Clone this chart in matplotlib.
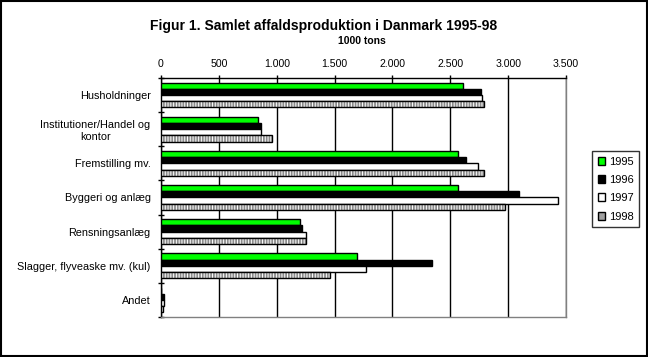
import numpy as np
import matplotlib
matplotlib.use("Agg")
import matplotlib.pyplot as plt
from matplotlib.patches import Patch, Rectangle
from matplotlib.ticker import FuncFormatter, FixedLocator

plt.rcParams['font.family'] = ['Liberation Sans', 'DejaVu Sans']
plt.rcParams['hatch.linewidth'] = 0.7

# data, 1000 tons
categories = ["Husholdninger", "Institutioner/Handel og\nkontor", "Fremstilling mv.",
              "Byggeri og anlæg", "Rensningsanlæg", "Slagger, flyveaske mv. (kul)", "Andet"]
years = ["1995", "1996", "1997", "1998"]
v1995 = [2610, 840, 2565, 2565, 1205, 1695, 0]
v1996 = [2765, 860, 2635, 3095, 1220, 2340, 25]
v1997 = [2775, 865, 2740, 3430, 1255, 1775, 30]
v1998 = [2790, 960, 2790, 2970, 1250, 1460, 15]
xticks = [0, 500, 1000, 1500, 2000, 2500, 3000, 3500]

fig = plt.figure(figsize=(6.48, 3.57), dpi=100)
ax = fig.add_axes([161 / 648, 1 - 317 / 357, 405 / 648, 239 / 357])

y = np.arange(len(categories))
h = 0.18
offs = [-1.5 * h, -0.5 * h, 0.5 * h, 1.5 * h]

ax.barh(y + offs[0], v1995, height=h, color='#00ff00', edgecolor='black', linewidth=1, zorder=3)
ax.barh(y + offs[1], v1996, height=h, color='black', edgecolor='black', linewidth=1, zorder=3)
ax.barh(y + offs[2], v1997, height=h, color='white', edgecolor='black', linewidth=1, zorder=3)
# striped bar: gray with white vertical lines, then black outline on top
ax.barh(y + offs[3], v1998, height=h, color='#8c8c8c', edgecolor='white', hatch='||||||',
        linewidth=0, zorder=3)
ax.barh(y + offs[3], v1998, height=h, fill=False, edgecolor='black', linewidth=1, zorder=4)

ax.set_xlim(0, 3500)
ax.set_ylim(len(categories) - 0.5, -0.5)

ax.xaxis.tick_top()
ax.set_xticks(xticks)
ax.xaxis.set_major_formatter(FuncFormatter(lambda v, p: f"{int(v):,}".replace(",", ".")))
ax.tick_params(axis='x', direction='out', length=2.2, width=1, pad=4.5, labelsize=7.6)
ax.grid(axis='x', color='black', linewidth=1, zorder=1)

ax.set_yticks(y)
ax.set_yticklabels(categories, multialignment='center')
ax.yaxis.set_minor_locator(FixedLocator(np.arange(-0.5, len(categories), 1.0)))
ax.tick_params(axis='y', which='major', length=0, pad=7.5, labelsize=7.8)
ax.tick_params(axis='y', which='minor', direction='inout', length=4.3, width=1)

ax.spines['top'].set_color('black')
ax.spines['left'].set_color('black')
ax.spines['right'].set_color('#808080')
ax.spines['bottom'].set_color('#808080')
for s in ax.spines.values():
    s.set_linewidth(1)

fig.text(324 / 648, 1 - 26 / 357, "Figur 1. Samlet affaldsproduktion i Danmark 1995-98",
         ha='center', va='center', fontsize=10, fontweight='bold')
fig.text(362 / 648, 1 - 41.5 / 357, "1000 tons", ha='center', va='center', fontsize=7.5,
         fontweight='bold')

handles = [Patch(facecolor='#00ff00', edgecolor='black'),
           Patch(facecolor='black', edgecolor='black'),
           Patch(facecolor='white', edgecolor='black'),
           Patch(facecolor='#a0a0a0', edgecolor='black')]
leg = fig.legend(handles, years, loc='upper left', bbox_to_anchor=(592 / 648, 1 - 151 / 357),
                 fontsize=8, handlelength=0.7, handleheight=0.7, handletextpad=0.3,
                 labelspacing=0.75, borderpad=0.5, borderaxespad=0, frameon=True,
                 fancybox=False, edgecolor='black')
leg.get_frame().set_linewidth(1)

fig.patches.append(Rectangle((0.001, 0.002), 0.997, 0.996, transform=fig.transFigure,
                             fill=False, edgecolor='black', linewidth=1.5))

fig.savefig("out.png", dpi=100)
